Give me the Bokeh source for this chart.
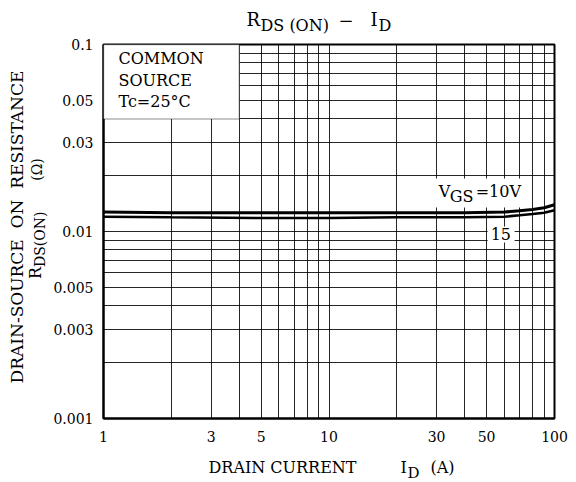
import math
from bokeh.plotting import figure
from bokeh.models import FixedTicker, Label, BoxAnnotation, Range1d
from bokeh.layouts import column, row
from bokeh.embed import file_html
from bokeh.resources import INLINE

# ---- data ----
drain_current = [1, 2, 5, 10, 20, 40, 60, 70, 80, 90, 100]
rds_vgs10 = [0.0127, 0.0126, 0.0126, 0.0126, 0.0126, 0.0126, 0.0127, 0.0129, 0.0131, 0.0134, 0.0139]
rds_vgs15 = [0.0120, 0.0119, 0.0118, 0.0118, 0.0119, 0.0119, 0.0120, 0.0122, 0.0124, 0.0126, 0.0130]

x_ticks = [1, 3, 5, 10, 30, 50, 100]
x_tick_labels = ["1", "3", "5", "10", "30", "50", "100"]
y_ticks = [0.001, 0.003, 0.005, 0.01, 0.03, 0.05, 0.1]
y_tick_labels = ["0.001", "0.003", "0.005", "0.01", "0.03", "0.05", "0.1"]
x_grid = [2, 3, 4, 5, 6, 7, 8, 9, 10, 20, 30, 40, 50, 60, 70, 80, 90]
y_grid = [0.002, 0.003, 0.004, 0.005, 0.006, 0.007, 0.008, 0.009, 0.01,
          0.02, 0.03, 0.04, 0.05, 0.06, 0.07, 0.08, 0.09]

FONT = "DejaVu Serif"

# page layout (px)
W, H = 576, 482
TITLE_H = 36
XLAB_H = 34
YLAB_W = 50
MAIN_H = H - TITLE_H - XLAB_H
MAIN_W = W - YLAB_W
FL, FR, FT, FB = 102, 554, 44, 418  # plot frame on the page

# empirical baseline corrections for Label rendering (fraction of font size)
K_BASE = 0.42
K_ROT = 0.65


def at(px, py):
    """page pixel -> data coords (annotation placement inside the frame)"""
    x = 10 ** (2 * (px - FL) / (FR - FL))
    y = 10 ** (-1 - 2 * (py - FT) / (FB - FT))
    return x, y


p = figure(width=MAIN_W, height=MAIN_H, x_axis_type="log", y_axis_type="log",
           x_range=Range1d(1, 100), y_range=Range1d(0.001, 0.1),
           output_backend="svg", toolbar_location=None,
           min_border_left=FL - YLAB_W, min_border_right=W - FR,
           min_border_top=FT - TITLE_H, min_border_bottom=TITLE_H + MAIN_H - FB)
p.background_fill_color = "white"
p.border_fill_color = "white"
p.outline_line_color = "black"
p.outline_line_width = 2
p.outline_line_alpha = 1

for ax in (p.xaxis[0], p.yaxis[0]):
    ax.major_tick_line_color = None
    ax.minor_tick_line_color = None
    ax.axis_line_color = "black"
    ax.axis_line_width = 2
    ax.major_label_text_font = FONT
    ax.major_label_text_font_size = "14px"
    ax.major_label_text_color = "black"

p.xaxis.ticker = FixedTicker(ticks=x_ticks)
p.xaxis.major_label_overrides = {t: s for t, s in zip(x_ticks, x_tick_labels)}
p.xaxis.major_label_standoff = 6
p.yaxis.ticker = FixedTicker(ticks=y_ticks)
p.yaxis.major_label_overrides = {t: s for t, s in zip(y_ticks, y_tick_labels)}
p.yaxis.major_label_standoff = 4

p.xgrid.ticker = FixedTicker(ticks=x_grid)
p.ygrid.ticker = FixedTicker(ticks=y_grid)
for g in (p.xgrid[0], p.ygrid[0]):
    g.grid_line_color = "black"
    g.grid_line_width = 1
    g.grid_line_alpha = 0.85

p.line(drain_current, rds_vgs10, line_width=3, color="black")
p.line(drain_current, rds_vgs15, line_width=2.5, color="black")

# condition box (top-left)
p.add_layout(BoxAnnotation(left=1, right=4, bottom=0.04, top=0.1,
                           fill_color="white", fill_alpha=1,
                           line_color="black", line_width=1.5))
# white backings of the curve labels
x0, y0 = at(432, 207)
x1, y1 = at(528, 178)
p.add_layout(BoxAnnotation(left=x0, right=x1, bottom=y0, top=y1,
                           fill_color="white", fill_alpha=1, line_color=None))
x0, y0 = at(487, 242)
x1, y1 = at(514, 226)
p.add_layout(BoxAnnotation(left=x0, right=x1, bottom=y0, top=y1,
                           fill_color="white", fill_alpha=1, line_color=None))


def lab(fig, x, y, text, size, align="left", angle=0.0):
    fig.add_layout(Label(x=x, y=y, text=text, text_font=FONT,
                         text_font_size=f"{size}px", text_color="black",
                         text_align=align, text_baseline="alphabetic", angle=angle))


def plab(text, px, py, size):
    """label inside the main frame; (px, py) = left end of the baseline on the page"""
    x, y = at(px, py - K_BASE * size)
    lab(p, x, y, text, size)


def tlab(fig, text, px, py, size):
    """label in a text figure whose coords are pixels, y down"""
    lab(fig, px, py - K_BASE * size, text, size)


def rlab(fig, text, bx, by, size, align="left"):
    """rotated (bottom-to-top) label; bx = baseline x, by = start (or centre) y"""
    lab(fig, bx - K_BASE * size, by + K_ROT * size, text, size, align=align, angle=math.pi / 2)


# box text
plab("COMMON", 117, 65, 16)
plab("SOURCE", 117, 86.5, 16)
plab("Tc=25°C", 117, 108, 16)

# curve labels
plab("V", 438, 198, 16)
plab("GS", 449, 203, 16)
plab("=10V", 475, 198, 16)
plab("15", 490, 240, 16)


def text_fig(w, h):
    f = figure(width=w, height=h, x_range=Range1d(0, w), y_range=Range1d(h, 0),
               x_axis_location=None, y_axis_location=None,
               output_backend="svg", toolbar_location=None, min_border=0)
    f.grid.visible = False
    f.outline_line_color = None
    f.background_fill_color = "white"
    f.border_fill_color = "white"
    return f


# title (local coords = page coords)
tf = text_fig(W, TITLE_H)
tlab(tf, "R", 246, 27, 18)
tlab(tf, "DS (ON)", 260, 32, 16)
tlab(tf, "\u2212", 338, 27, 18)
tlab(tf, "I", 370, 27, 18)
tlab(tf, "D", 378, 32, 16)

# y axis label (local y = page y - TITLE_H)
yf = text_fig(YLAB_W, MAIN_H)
rlab(yf, "DRAIN-SOURCE\u00a0 ON\u00a0 RESISTANCE", 24, 226 - TITLE_H, 17, align="center")
rlab(yf, "R", 42, 284 - TITLE_H, 16)
rlab(yf, "DS(ON)", 45, 272 - TITLE_H, 14)
rlab(yf, "(\u03a9)", 42, 177 - TITLE_H, 14)

# x axis label (local y = page y - (TITLE_H + MAIN_H))
xf = text_fig(W, XLAB_H)
yb = TITLE_H + MAIN_H
tlab(xf, "DRAIN CURRENT", 208, 474 - yb, 16)
tlab(xf, "I", 400, 474 - yb, 16)
tlab(xf, "D", 407, 479 - yb, 15)
tlab(xf, "(A)", 430, 474 - yb, 16)

layout = column(tf, row(yf, p), xf)
open("out.html", "w").write(file_html(layout, INLINE))
